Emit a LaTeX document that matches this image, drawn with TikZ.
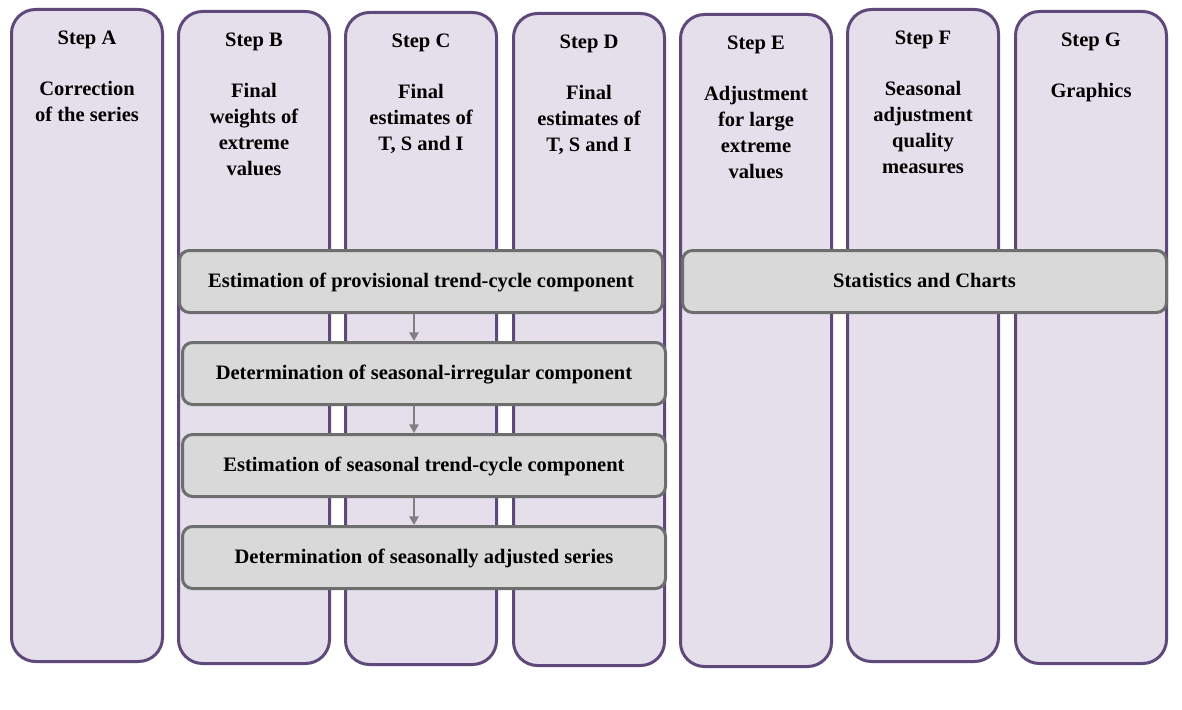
\documentclass[tikz,border=0pt]{standalone}
\usepackage{fontspec}
\setmainfont{Liberation Serif}
\usetikzlibrary{arrows.meta}
\definecolor{colfill}{HTML}{E5DFEC}
\definecolor{coldraw}{HTML}{5F497A}
\definecolor{boxfill}{HTML}{D9D9D9}
\definecolor{boxdraw}{HTML}{6E6E6E}
\definecolor{arrgray}{HTML}{808080}
\tikzset{
  colbox/.style={draw=coldraw, fill=colfill, line width=2.25pt, rounded corners=18pt,
    minimum width=113.25pt, minimum height=489pt, inner sep=0pt},
  procbox/.style={draw=boxdraw, fill=boxfill, line width=2.25pt, rounded corners=7.5pt,
    minimum width=362.25pt, minimum height=46.5pt, inner sep=0pt,
    text height=10.5pt, text depth=2pt,
    font=\fontsize{15.4}{19.5}\selectfont\bfseries},
  steptitle/.style={anchor=base, inner sep=0pt, font=\fontsize{15.4}{19.5}\selectfont\bfseries},
  stepbody/.style={anchor=north, inner sep=0pt, align=center, font=\fontsize{15.4}{19.5}\selectfont\bfseries},
  arr/.style={draw=arrgray, line width=1.2pt, -{Triangle[length=6.5pt,width=7pt]}}
}
\begin{document}
\begin{tikzpicture}[x=0.75pt,y=-0.75pt]
\fill[white] (0,0) rectangle (1182,710);
\useasboundingbox (0,0) rectangle (1182,710);
% columns
\node[colbox] (cA) at (87,335.5) {};
\node[colbox] (cB) at (254,337.5) {};
\node[colbox] (cC) at (421,338.5) {};
\node[colbox] (cD) at (589,339.5) {};
\node[colbox] (cE) at (756,340.5) {};
\node[colbox] (cF) at (923,335.5) {};
\node[colbox] (cG) at (1091,337.5) {};
% titles
\node[steptitle] (tA) at (87,44.5) {Step A};
\node[steptitle] (tB) at (254,46.5) {Step B};
\node[steptitle] (tC) at (421,47.5) {Step C};
\node[steptitle] (tD) at (589,48.5) {Step D};
\node[steptitle] (tE) at (756,49.5) {Step E};
\node[steptitle] (tF) at (923,44.5) {Step F};
\node[steptitle] (tG) at (1091,46.5) {Step G};
% bodies
\node[stepbody] (bA) at (87,76.6) {\strut Correction\\of the series};
\node[stepbody] (bB) at (254,78.6) {\strut Final\\weights of\\extreme\\values};
\node[stepbody] (bC) at (421,79.6) {\strut Final\\estimates of\\T, S and I};
\node[stepbody] (bD) at (589,80.6) {\strut Final\\estimates of\\T, S and I};
\node[stepbody] (bE) at (756,81.6) {\strut Adjustment\\for large\\extreme\\values};
\node[stepbody] (bF) at (923,76.6) {\strut Seasonal\\adjustment\\quality\\measures};
\node[stepbody] (bG) at (1091,78.6) {\strut Graphics};
% process boxes
\node[procbox] (p1) at (421,281.5) {Estimation of provisional trend-cycle component};
\node[procbox] (p2) at (424,373.5) {Determination of seasonal-irregular component};
\node[procbox] (p3) at (424,465.5) {Estimation of seasonal trend-cycle component};
\node[procbox] (p4) at (424,557.5) {Determination of seasonally adjusted series};
\node[procbox, minimum width=363pt] (ps) at (924.5,281.5) {Statistics and Charts};
% arrows
\coordinate (ax) at (414,0);
\draw[arr] (p1.south -| ax) -- (p2.north -| ax);
\draw[arr] (p2.south -| ax) -- (p3.north -| ax);
\draw[arr] (p3.south -| ax) -- (p4.north -| ax);
\end{tikzpicture}
\end{document}
